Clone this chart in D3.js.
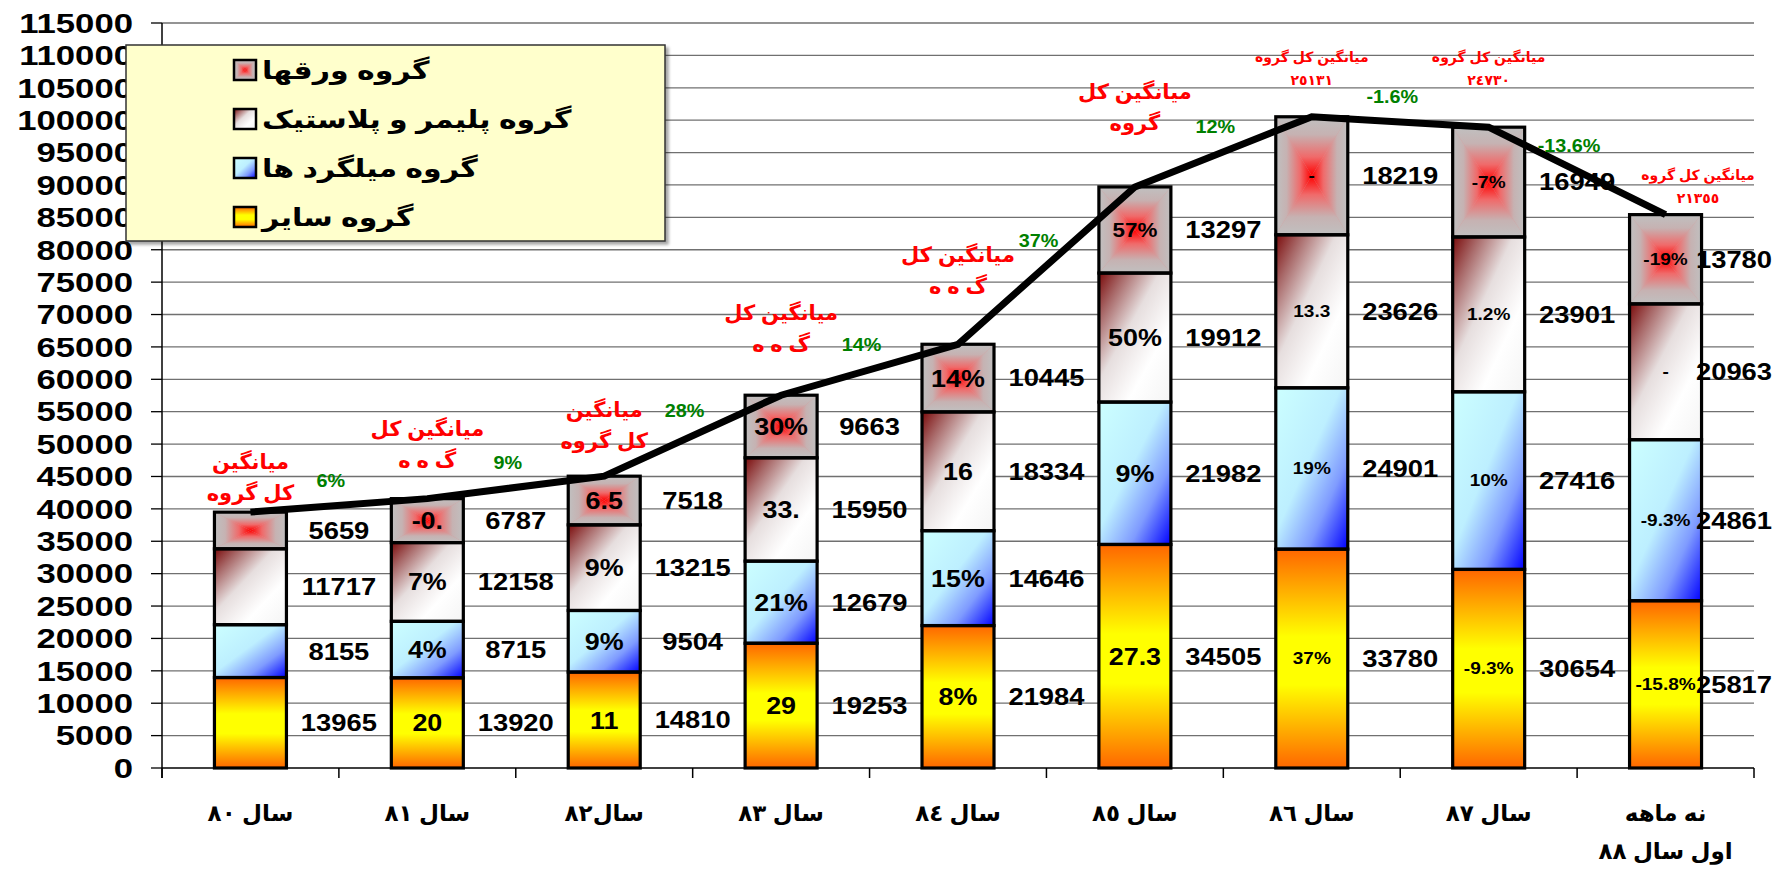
<!DOCTYPE html>
<html><head><meta charset="utf-8">
<script src="https://cdn.jsdelivr.net/npm/d3@7"></script>
<style>body{margin:0;background:#fff}svg{display:block}</style>
</head><body><svg id="c" width="1786" height="870"></svg>
<script>
// ---------- data ----------
const categories = [["سال ٨٠"],["سال ٨١"],["سال٨٢"],["سال ٨٣"],["سال ٨٤"],["سال ٨٥"],["سال ٨٦"],["سال ٨٧"],["نه ماهه","اول سال ٨٨"]];
const seriesNames = ["گروه سایر","گروه میلگرد ها","گروه پلیمر و پلاستیک","گروه ورقها"];
const sayer   = [13965,13920,14810,19253,21984,34505,33780,30654,25817];
const milgerd = [8155,8715,9504,12679,14646,21982,24901,27416,24861];
const polymer = [11717,12158,13215,15950,18334,19912,23626,23901,20963];
const varagh  = [5659,6787,7518,9663,10445,13297,18219,16949,13780];
const sayerPct   = ["","20","11","29","8%","27.3","37%","-9.3%","-15.8%"];
const milgerdPct = ["","4%","9%","21%","15%","9%","19%","10%","-9.3%"];
const polymerPct = ["","7%","9%","33.","16","50%","13.3","1.2%","-"];
const varaghPct  = ["","-0.","6.5","30%","14%","57%","-","-7%","-19%"];
const growthLabels = ["6%","9%","28%","14%","37%","12%","-1.6%","-13.6%"];
const avgNotes = [["میانگین","کل گروه"],["میانگین کل","گ ه ه"],["میانگین","کل گروه"],["میانگین کل","گ ه ه"],["میانگین کل","گ ه ه"],["میانگین کل","گروه"],["میانگین کل گروه","٢٥١٣١"],["میانگین کل گروه","٢٤٧٣٠"],["میانگین کل گروه","٢١٣٥٥"]];
const avgNoteAt = [47236,52483,55262,70389,79188,104349,109752,109752,91537];
const yTickValues = d3.range(0, 115001, 5000);

// ---------- setup ----------
const svg = d3.select("#c");
const FONT = "Arial, 'Liberation Sans', 'DejaVu Sans', sans-serif";
const series = [sayer, milgerd, polymer, varagh];
const pcts = [sayerPct, milgerdPct, polymerPct, varaghPct];
const fills = ["url(#gSayer)","url(#gMil)","url(#gPoly)",null];
const n = categories.length;
const totals = d3.range(n).map(i => series.reduce((s,a)=>s+a[i],0));

const y = d3.scaleLinear().domain([0,115000]).range([768,23]);
const xCat = d3.scaleBand().domain(d3.range(n)).range([162,1754]).padding(0);
const xBar = d3.scaleBand().domain(d3.range(n)).range([162,1754]).paddingInner(0.593).paddingOuter(0.2965);
const plotRight = xCat.range()[1];

// ---------- gradients ----------
const defs = svg.append("defs");
function lin(id, x1,y1,x2,y2, stops){
  const g = defs.append("linearGradient").attr("id",id)
    .attr("x1",x1).attr("y1",y1).attr("x2",x2).attr("y2",y2);
  stops.forEach(s=>g.append("stop").attr("offset",s[0]).attr("stop-color",s[1]));
}
lin("gSayer",0,0,0,1,[[0,"#FF6600"],[0.4,"#FFFF00"],[0.62,"#FFFF00"],[1,"#FF6600"]]);
lin("gMil",0,0,1,1,[[0,"#CCFFFF"],[0.45,"#BDEFFF"],[0.72,"#7F9BFF"],[1,"#0000FF"]]);
lin("gPoly",0,0,1,1,[[0,"#7A0A0A"],[0.18,"#A86868"],[0.42,"#E6DEDE"],[0.7,"#FFFFFF"],[1,"#F4F4F4"]]);
const redStops = [[0,"#C0C0C0"],[0.3,"#C6B2B2"],[0.68,"#F06A6A"],[1,"#FF0000"]];
const redStopsRev = redStops.map(s=>[1-s[0],s[1]]).reverse();
lin("gRT",0,0,0,1,redStops);
lin("gRB",0,0,0,1,redStopsRev);
lin("gRL",0,0,1,0,redStops);
lin("gRR",0,0,1,0,redStopsRev);
const flt = defs.append("filter").attr("id","sh").attr("x","-5%").attr("y","-5%").attr("width","115%").attr("height","115%");
flt.append("feDropShadow").attr("dx",3).attr("dy",3).attr("stdDeviation",1.5).attr("flood-color","#000").attr("flood-opacity",0.35);

function stext(g, x, yy, str, o){
  return g.append("text")
    .attr("transform",`translate(${x},${yy}) scale(${o.sx||1},1)`)
    .attr("text-anchor",o.anchor||"middle")
    .attr("dominant-baseline","central")
    .attr("font-family",FONT).attr("font-weight","bold")
    .attr("font-size",o.size).attr("fill",o.fill||"#000")
    .attr("direction",o.rtl?"rtl":null)
    .attr("letter-spacing",o.ls||null)
    .text(str);
}

// red "from center" rectangle made of 4 triangles
function redRect(g, x0, y0, x1, y1){
  const cx=(x0+x1)/2, cy=(y0+y1)/2;
  g.append("rect").attr("x",x0).attr("y",y0).attr("width",x1-x0).attr("height",y1-y0).attr("fill","#D89A9A");
  const tri = (pts, f) => g.append("path").attr("d","M"+pts.map(p=>p.join(",")).join("L")+"Z").attr("fill",f);
  tri([[x0,y0],[x1,y0],[cx,cy]],"url(#gRT)");
  tri([[x0,y1],[x1,y1],[cx,cy]],"url(#gRB)");
  tri([[x0,y0],[x0,y1],[cx,cy]],"url(#gRL)");
  tri([[x1,y0],[x1,y1],[cx,cy]],"url(#gRR)");
}

// ---------- grid & axes ----------
const grid = svg.append("g");
grid.selectAll("line").data(yTickValues.filter(v=>v>0)).join("line")
  .attr("x1",162).attr("x2",plotRight).attr("y1",d=>y(d)).attr("y2",d=>y(d))
  .attr("stroke","#707070").attr("stroke-width",1.3);

const axG = svg.append("g");
yTickValues.forEach(d=> stext(axG,133,y(d),String(d),{size:28,sx:1.24,anchor:"end"}));
axG.selectAll("line.yt").data(yTickValues).join("line").attr("class","yt")
  .attr("x1",151).attr("x2",162).attr("y1",d=>y(d)).attr("y2",d=>y(d)).attr("stroke","#000").attr("stroke-width",1.3);
axG.append("line").attr("x1",162).attr("x2",162).attr("y1",y(115000)).attr("y2",778).attr("stroke","#000").attr("stroke-width",1.5);
axG.append("line").attr("x1",162).attr("x2",plotRight).attr("y1",y(0)).attr("y2",y(0)).attr("stroke","#000").attr("stroke-width",1.5);
const bounds = d3.range(n+1).map(i=> i<n ? xCat(i) : plotRight);
axG.selectAll("line.xt").data(bounds).join("line").attr("class","xt")
  .attr("x1",d=>d).attr("x2",d=>d).attr("y1",y(0)).attr("y2",778).attr("stroke","#000").attr("stroke-width",1.5);
categories.forEach((lines,i)=>{
  lines.forEach((t,k)=> stext(axG, xCat(i)+xCat.step()/2, 813+k*38, t, {size:23, sx:1.0, rtl:true, ls:"1px"}));
});

// ---------- bars ----------
const barsG = svg.append("g");
const segs = [];
d3.range(n).forEach(i=>{
  let base = 0;
  series.forEach((arr,s)=>{
    segs.push({i, s, v:arr[i], y0:base, y1:base+arr[i]});
    base += arr[i];
  });
});
segs.forEach(d=>{
  const x0 = xBar(d.i), x1 = x0 + xBar.bandwidth();
  const top = y(d.y1), bot = y(d.y0);
  if (d.s === 3) redRect(barsG, x0, top, x1, bot);
  else barsG.append("rect").attr("x",x0).attr("y",top).attr("width",x1-x0).attr("height",bot-top).attr("fill",fills[d.s]);
});
segs.forEach(d=>{
  barsG.append("rect").attr("x",xBar(d.i)).attr("y",y(d.y1)).attr("width",xBar.bandwidth())
    .attr("height",y(d.y0)-y(d.y1)).attr("fill","none").attr("stroke","#000").attr("stroke-width",3.2);
});

// ---------- total line ----------
const line = d3.line().x((d,i)=>xCat(i)+xCat.step()/2).y(d=>y(d));
svg.append("path").datum(totals).attr("d",line).attr("fill","none").attr("stroke","#000")
  .attr("stroke-width",7).attr("stroke-linejoin","miter");

// ---------- labels ----------
const lab = svg.append("g");
segs.forEach(d=>{
  const cx = xBar(d.i) + xBar.bandwidth()/2;
  const cy = y((d.y0+d.y1)/2);
  const size = d.i >= 6 ? 17 : (d.i===5 && d.s===3 ? 20 : 24);
  const t = pcts[d.s][d.i];
  if (t) stext(lab, cx, cy, t, {size, sx:1.12});
  // value label to the right of the bar
  const vx = Math.min(xCat(d.i)+xCat.step(), plotRight - 20);
  stext(lab, vx, cy, String(d.v), {size:24, sx:1.14});
});
// growth labels (green) between categories
growthLabels.forEach((g,k)=>{
  const xm = xCat(k)+xCat.step() - 8;
  const ym = y((totals[k]+totals[k+1])/2) - 25;
  stext(lab, xm, ym, g, {size:18, sx:1.1, fill:"#008000"});
});
// average notes (red); the last one sits flush with the plot's right edge
avgNotes.forEach((lines,i)=>{
  const small = i >= 6;
  const cx = i === n-1 ? plotRight - 56 : xCat(i)+xCat.step()/2;
  lines.forEach((t,k)=> stext(lab, cx, y(avgNoteAt[i]) + k*(small?23:31), t,
    {size: small?14:21, fill:"#FF0000", rtl:true, ls: (small && k===1) ? "4px" : null}));
});

// ---------- legend ----------
const lg = svg.append("g");
lg.append("rect").attr("x",126).attr("y",45).attr("width",539).attr("height",196)
  .attr("fill","#FFFFCC").attr("stroke","#333").attr("stroke-width",1.5).attr("filter","url(#sh)");
const legOrder = [3,2,1,0];
legOrder.forEach((s,k)=>{
  const cy = 70 + k*49;
  const x0 = 234, x1 = 256, y0 = cy-10, y1 = cy+10;
  if (s===3) redRect(lg, x0,y0,x1,y1);
  else lg.append("rect").attr("x",x0).attr("y",y0).attr("width",x1-x0).attr("height",y1-y0).attr("fill",fills[s]);
  lg.append("rect").attr("x",x0).attr("y",y0).attr("width",x1-x0).attr("height",y1-y0).attr("fill","none").attr("stroke","#000").attr("stroke-width",2.5);
  stext(lg, 262, cy, seriesNames[s], {size:25, sx:1.2, anchor:"end", rtl:true});
});
</script></body></html>
